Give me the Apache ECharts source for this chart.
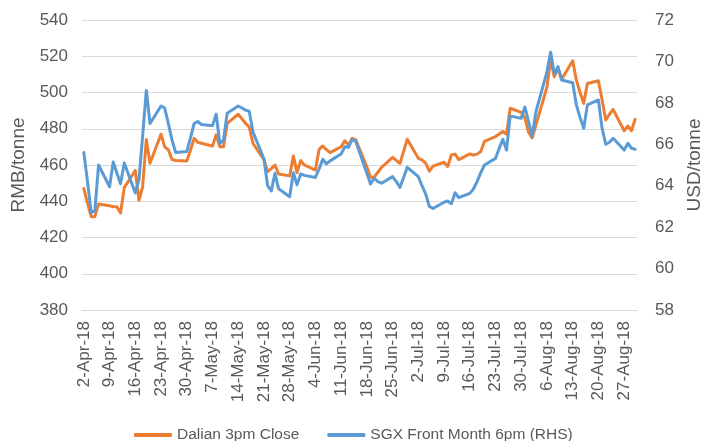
<!DOCTYPE html>
<html>
<head>
<meta charset="utf-8">
<script src="https://cdn.jsdelivr.net/npm/echarts@6/dist/echarts.min.js"></script>
<style>
  html, body { margin: 0; padding: 0; background: #fff; }
  #chart { width: 712px; height: 441px; }
</style>
</head>
<body>
<div id="chart"></div>
<script>
// 日期轴: 2-Apr-18 到 30-Aug-18，每天一个类目，周末为空
const monthNames = ['Jan', 'Feb', 'Mar', 'Apr', 'May', 'Jun', 'Jul', 'Aug', 'Sep', 'Oct', 'Nov', 'Dec'];
const firstDay = [2018, 3, 2];
const lastDay = [2018, 7, 30];

// 大连 3pm 收盘 (RMB/tonne)，按交易日，每行一周
const dalianClose = [
  447, 439, 431.5, 431.5, 438.5,
  437.5, 437, 437, 433.5, 447.5,
  457, 440.5, 448, 474, 461,
  477, 470, 468.3, 463, 462.5,
  462.2, 468, 474.7, 472.5, 472,
  470.5, 476.6, 470.1, 470.1, 483,
  488, 485.5, 483, 481, 472,
  463, 456.3, 458, 460, 455,
  454, 465, 455.8, 462.4, 460,
  457.2, 468.6, 470.5, 468.5, 466.8,
  470.1, 473.4, 471, 474.7, 473.8,
  459, 453.2, 453.2, 456, 458.7,
  464.2, 462.5, 460.9, 467.5, 474.2,
  463.7, 462.8, 461, 456.6, 459.4,
  461.5, 459.2, 465.5, 466, 463,
  466.1, 465.5, 466, 467.4, 473,
  475.6, 477.1, 478.5, 477, 491.3,
  489, 486, 478, 475, 482,
  503, 518, 508.7, 513.4, 507.3,
  517.5, 506.9, 500, 494, 505,
  506.5, 496, 484.8, 488, 490.7,
  478.9, 481.5, 478.9, 485.2
];

// SGX 近月 6pm (USD/tonne, 右轴)
const sgxFrontMonth = [
  65.6, 64.2, 62.7, 62.8, 65.0,
  63.95, 65.15, 64.6, 64.1, 65.1,
  63.65, 64.3, 66.4, 68.6, 67.0,
  67.85, 67.75, 67.0, 66.2, 65.6,
  65.65, 66.3, 67.0, 67.1, 66.95,
  66.9, 67.45, 66.05, 66.2, 67.5,
  67.85, 67.75, 67.65, 67.6, 66.6,
  65.3, 64.0, 63.75, 64.6, 63.85,
  63.47, 64.63, 64.04, 64.57, 64.5,
  64.4, 64.8, 65.28, 65.05, 65.2,
  65.53, 65.88, 65.85, 66.24, 66.13,
  64.6, 64.08, 64.36, 64.2, 64.12,
  64.44, 64.2, 63.92, 64.4, 64.89,
  64.44, 64.0, 63.6, 63.0, 62.9,
  63.2, 63.26, 63.13, 63.66, 63.42,
  63.63, 63.84, 64.2, 64.63, 65.0,
  65.32, 65.8, 66.24, 65.72, 67.37,
  67.25, 67.8, 67.1, 66.4, 67.57,
  69.5, 70.45, 69.4, 69.75, 69.1,
  68.97, 67.9, 67.3, 66.77, 67.9,
  68.14, 66.77, 66.0, 66.1, 66.29,
  65.72, 66.05, 65.81, 65.76
];

const seriesNames = ['Dalian 3pm Close', 'SGX Front Month 6pm (RHS)'];

// 生成类目和是否交易日
const dayLabels = [];
const isTradingDay = [];
const d = new Date(firstDay[0], firstDay[1], firstDay[2]);
const end = new Date(lastDay[0], lastDay[1], lastDay[2]);
while (d <= end) {
  dayLabels.push(d.getDate() + '-' + monthNames[d.getMonth()] + '-' + String(d.getFullYear()).slice(2));
  isTradingDay.push(d.getDay() !== 0 && d.getDay() !== 6);
  d.setDate(d.getDate() + 1);
}

// 把交易日数值铺到日类目上，周末留空
function spread(values) {
  let k = 0;
  return isTradingDay.map(t => (t ? values[k++] : null));
}

const textColor = '#595959';
const gridColor = '#d9d9d9';
const font = 'Liberation Sans';

const chart = echarts.init(document.getElementById('chart'));
const option = {
  animation: false,
  grid: { left: 82, right: 75, top: 20, bottom: 131 },
  legend: {
    data: seriesNames,
    top: 422,
    left: 129,
    icon: 'roundRect',
    itemWidth: 38,
    itemHeight: 4,
    itemGap: 28,
    textStyle: { color: textColor, fontSize: 15.5, fontFamily: font }
  },
  xAxis: {
    type: 'category',
    data: dayLabels,
    boundaryGap: true,
    axisLine: { lineStyle: { color: gridColor, width: 1 } },
    axisTick: { interval: 6, length: 5, lineStyle: { color: gridColor } },
    axisLabel: {
      interval: 6,
      rotate: 90,
      margin: 11,
      color: textColor,
      fontSize: 17,
      fontFamily: font
    }
  },
  yAxis: [
    {
      type: 'value',
      min: 380,
      max: 540,
      interval: 20,
      name: 'RMB/tonne',
      nameLocation: 'middle',
      nameRotate: 90,
      nameGap: 51,
      nameTextStyle: { color: textColor, fontSize: 19, fontFamily: font },
      axisLine: { show: false },
      axisTick: { show: false },
      axisLabel: { color: textColor, fontSize: 17, fontFamily: font, margin: 14 },
      splitLine: { lineStyle: { color: gridColor, width: 1 } }
    },
    {
      type: 'value',
      min: 58,
      max: 72,
      interval: 2,
      name: 'USD/tonne',
      nameLocation: 'middle',
      nameRotate: 90,
      nameGap: 47,
      nameTextStyle: { color: textColor, fontSize: 19, fontFamily: font },
      axisLine: { show: false },
      axisTick: { show: false },
      axisLabel: { color: textColor, fontSize: 17, fontFamily: font, margin: 18 },
      splitLine: { show: false }
    }
  ],
  series: [
    {
      name: seriesNames[0],
      type: 'line',
      yAxisIndex: 0,
      data: spread(dalianClose),
      connectNulls: true,
      showSymbol: false,
      symbol: 'none',
      color: '#ED7D31',
      lineStyle: { width: 3, cap: 'round', join: 'round' }
    },
    {
      name: seriesNames[1],
      type: 'line',
      yAxisIndex: 1,
      data: spread(sgxFrontMonth),
      connectNulls: true,
      showSymbol: false,
      symbol: 'none',
      color: '#5B9BD5',
      lineStyle: { width: 3, cap: 'round', join: 'round' }
    }
  ]
};
chart.setOption(option);
</script>
</body>
</html>
